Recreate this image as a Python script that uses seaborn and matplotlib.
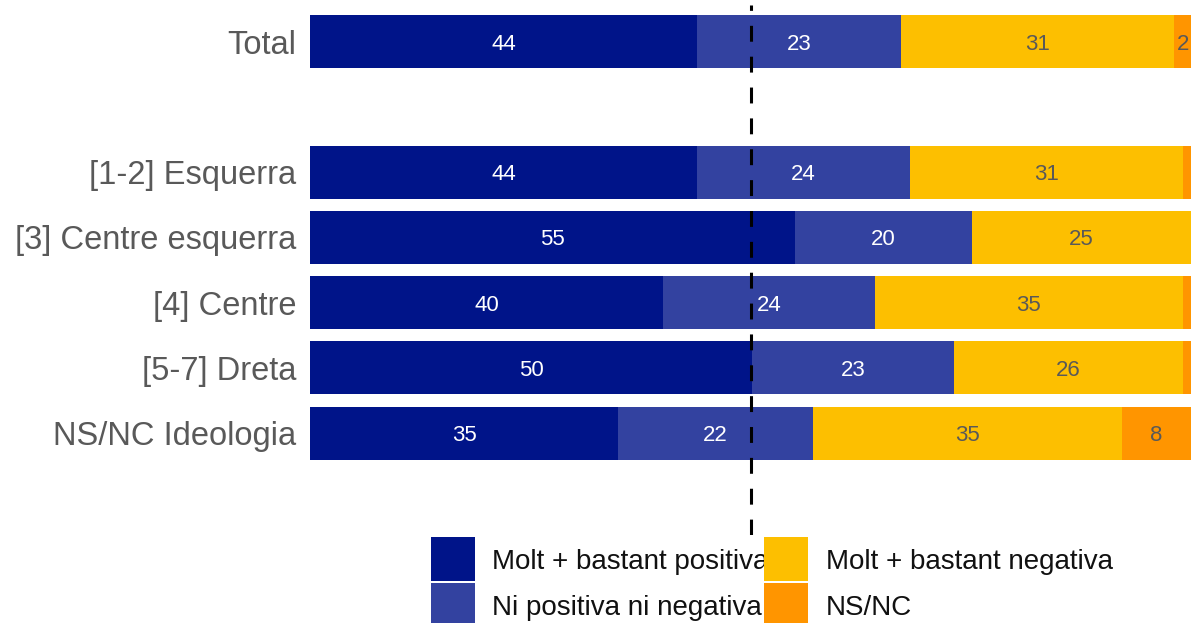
import numpy as np
import pandas as pd
import seaborn as sns
import matplotlib.pyplot as plt
from matplotlib.lines import Line2D

# Data (percentages)
categories = ['Total', '[1-2] Esquerra', '[3] Centre esquerra', '[4] Centre',
              '[5-7] Dreta', 'NS/NC Ideologia']
order = ['Total', ' ', '[1-2] Esquerra', '[3] Centre esquerra', '[4] Centre',
         '[5-7] Dreta', 'NS/NC Ideologia']
segments = ['Molt + bastant positiva', 'Ni positiva ni negativa',
            'Molt + bastant negativa', 'NS/NC']
positiva = [43.9, 43.9, 55.0, 40.1, 50.2, 35.0]
neutra = [23.2, 24.2, 20.1, 24.0, 22.9, 22.1]
negativa = [31.0, 31.0, 24.9, 35.0, 26.0, 35.1]
nsnc = [1.9, 0.9, 0.0, 0.9, 0.9, 7.8]

colors = ['#001489', '#3342A0', '#FDBF00', '#FF9500']
text_colors = ['white', 'white', '#595959', '#595959']

sns.set_style('white')
plt.rcParams['font.family'] = ['Liberation Sans', 'DejaVu Sans']

# Long table with cumulative ends for stacking
vals = np.array([positiva, neutra, negativa, nsnc])
cums = np.cumsum(vals, axis=0)
rows = []
for i, seg in enumerate(segments):
    for j, cat in enumerate(categories):
        rows.append({'cat': cat, 'seg': seg, 'val': vals[i, j],
                     'start': cums[i, j] - vals[i, j], 'end': cums[i, j]})
df = pd.DataFrame(rows)

fig = plt.figure(figsize=(11.91, 6.23), dpi=100)
ax = fig.add_axes([310 / 1191, 1 - 535 / 623, 881 / 1191, 530 / 623])

# Draw from the outermost segment inwards so each layer shows its own part
for i in reversed(range(len(segments))):
    sub = df[df['seg'] == segments[i]]
    sns.barplot(data=sub, x='end', y='cat', order=order, color=colors[i],
                saturation=1, width=0.81, orient='h', linewidth=0, ax=ax)

# Value labels
for _, r in df.iterrows():
    if r['val'] >= 1.5:
        i = segments.index(r['seg'])
        ax.text((r['start'] + r['end']) / 2, order.index(r['cat']),
                f"{r['val']:.0f}", ha='center', va='center_baseline',
                fontsize=16, color=text_colors[i], clip_on=False, zorder=4)

ax.axvline(50, color='black', lw=2.2, linestyle=(0, (5.2, 4.9)), zorder=5)

ax.set_xlim(0, 100)
ax.set_ylim(7.56, -0.56)
ax.set_xlabel('')
ax.set_ylabel('')
ax.set_xticks([])
ax.tick_params(axis='y', length=0, pad=10, labelsize=23.5, labelcolor='#595959')
sns.despine(ax=ax, left=True, bottom=True)

# Legend with large square keys
handles = [Line2D([], [], marker='s', linestyle='none', markersize=31,
                  markerfacecolor=c, markeredgewidth=0) for c in colors]
fig.legend(handles, segments, loc='upper left', ncol=2,
           bbox_to_anchor=(431 / 1191, 1 - 549 / 623),
           bbox_transform=fig.transFigure, frameon=False, fontsize=20,
           borderpad=0, borderaxespad=0, handlelength=1.55,
           handletextpad=0.65, labelspacing=0.72, columnspacing=-0.14,
           labelcolor='#111111')

fig.savefig('out.png', dpi=100)
